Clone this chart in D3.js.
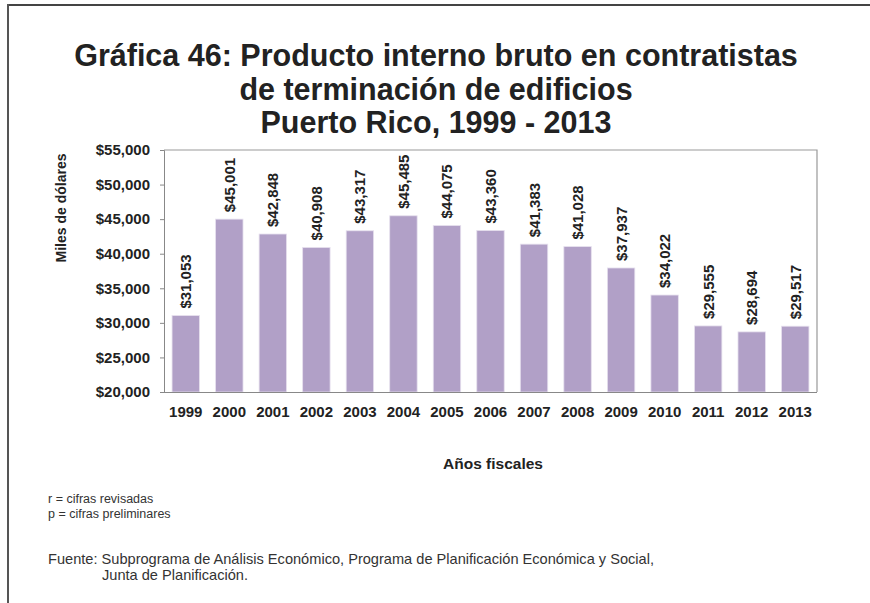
<!DOCTYPE html>
<html><head><meta charset="utf-8">
<script src="https://cdn.jsdelivr.net/npm/d3@7"></script>
<style>body{margin:0;background:#fff;}svg{display:block;font-family:Arial,"Liberation Sans",sans-serif;}</style>
</head><body>
<svg id="c" width="870" height="603"></svg>
<script>
const years = ["1999","2000","2001","2002","2003","2004","2005","2006","2007","2008","2009","2010","2011","2012","2013"];
const values = [31053,45001,42848,40908,43317,45485,44075,43360,41383,41028,37937,34022,29555,28694,29517];
const yTicks = [20000,25000,30000,35000,40000,45000,50000,55000];
const titleLines = ["Gráfica 46: Producto interno bruto en contratistas","de terminación de edificios","Puerto Rico, 1999 - 2013"];

const svg = d3.select("#c");
// frame
svg.append("line").attr("x1",8).attr("x2",870).attr("y1",5).attr("y2",5).attr("stroke","#444").attr("stroke-width",2);
svg.append("line").attr("x1",8).attr("x2",8).attr("y1",4).attr("y2",603).attr("stroke","#555").attr("stroke-width",2);

const m = {l:164, t:150, r:817, b:392};
const x = d3.scaleBand().domain(years).range([m.l,m.r]).paddingInner(0.37).paddingOuter(0.185);
const y = d3.scaleLinear().domain([20000,55000]).range([m.b,m.t]);
const fmt = d => "$" + d3.format(",")(d);

// title
titleLines.forEach((t,i)=>{
  svg.append("text").attr("x",436).attr("y",66+i*33.5).attr("text-anchor","middle")
    .attr("font-size",30.5).attr("font-weight","bold").attr("fill","#222").text(t);
});

// plot border (top/right)
svg.append("path").attr("d",`M${m.l},${m.t}H${m.r}V${m.b}`).attr("fill","none").attr("stroke","#999").attr("stroke-width",1.2);

// bars
svg.selectAll("rect.bar").data(values).join("rect").attr("class","bar")
  .attr("x",(d,i)=>x(years[i])).attr("width",x.bandwidth())
  .attr("y",d=>y(d)).attr("height",d=>y(20000)-y(d))
  .attr("fill","#b1a0c7").attr("stroke","#e6e0ee").attr("stroke-width",0.8);

// value labels
svg.selectAll("text.val").data(values).join("text").attr("class","val")
  .attr("transform",(d,i)=>`translate(${x(years[i])+x.bandwidth()/2+5.5},${y(d)-7}) rotate(-90)`)
  .attr("font-size",15).attr("font-weight","bold").attr("fill","#222")
  .text(fmt);

// y axis
const ya = svg.append("g").attr("transform",`translate(${m.l},0)`)
  .call(d3.axisLeft(y).tickValues(yTicks).tickSize(4).tickPadding(10).tickFormat(fmt));
ya.selectAll("path,line").attr("stroke","#888");
ya.selectAll("text").attr("font-size",15).attr("font-weight","bold").attr("fill","#222").attr("font-family","Arial");

// x axis
const xa = svg.append("g").attr("transform",`translate(0,${m.b})`)
  .call(d3.axisBottom(x).tickSize(0).tickPadding(0));
xa.select("path").attr("stroke","#888").attr("d",`M${m.l},0.5H${m.r}`);
xa.selectAll("text").attr("dy",null).attr("y",25).attr("font-size",15).attr("font-weight","bold").attr("fill","#222").attr("font-family","Arial");

// axis titles
svg.append("text").attr("transform","translate(66,208) rotate(-90)").attr("text-anchor","middle")
  .attr("font-size",14).attr("font-weight","bold").attr("fill","#222").text("Miles de dólares");
svg.append("text").attr("x",493).attr("y",469).attr("text-anchor","middle")
  .attr("font-size",15.5).attr("font-weight","bold").attr("fill","#222").text("Años fiscales");

// notes
const notes = [["r = cifras revisadas",48,503,12.5],["p = cifras preliminares",48,518,12.5],
  ["Fuente: Subprograma de Análisis Económico, Programa de Planificación Económica y Social,",48,564,14.6],
  ["Junta de Planificación.",102,580,14.6]];
notes.forEach(n=>svg.append("text").attr("x",n[1]).attr("y",n[2]).attr("font-size",n[3]).attr("fill","#333").text(n[0]));
</script>
</body></html>
